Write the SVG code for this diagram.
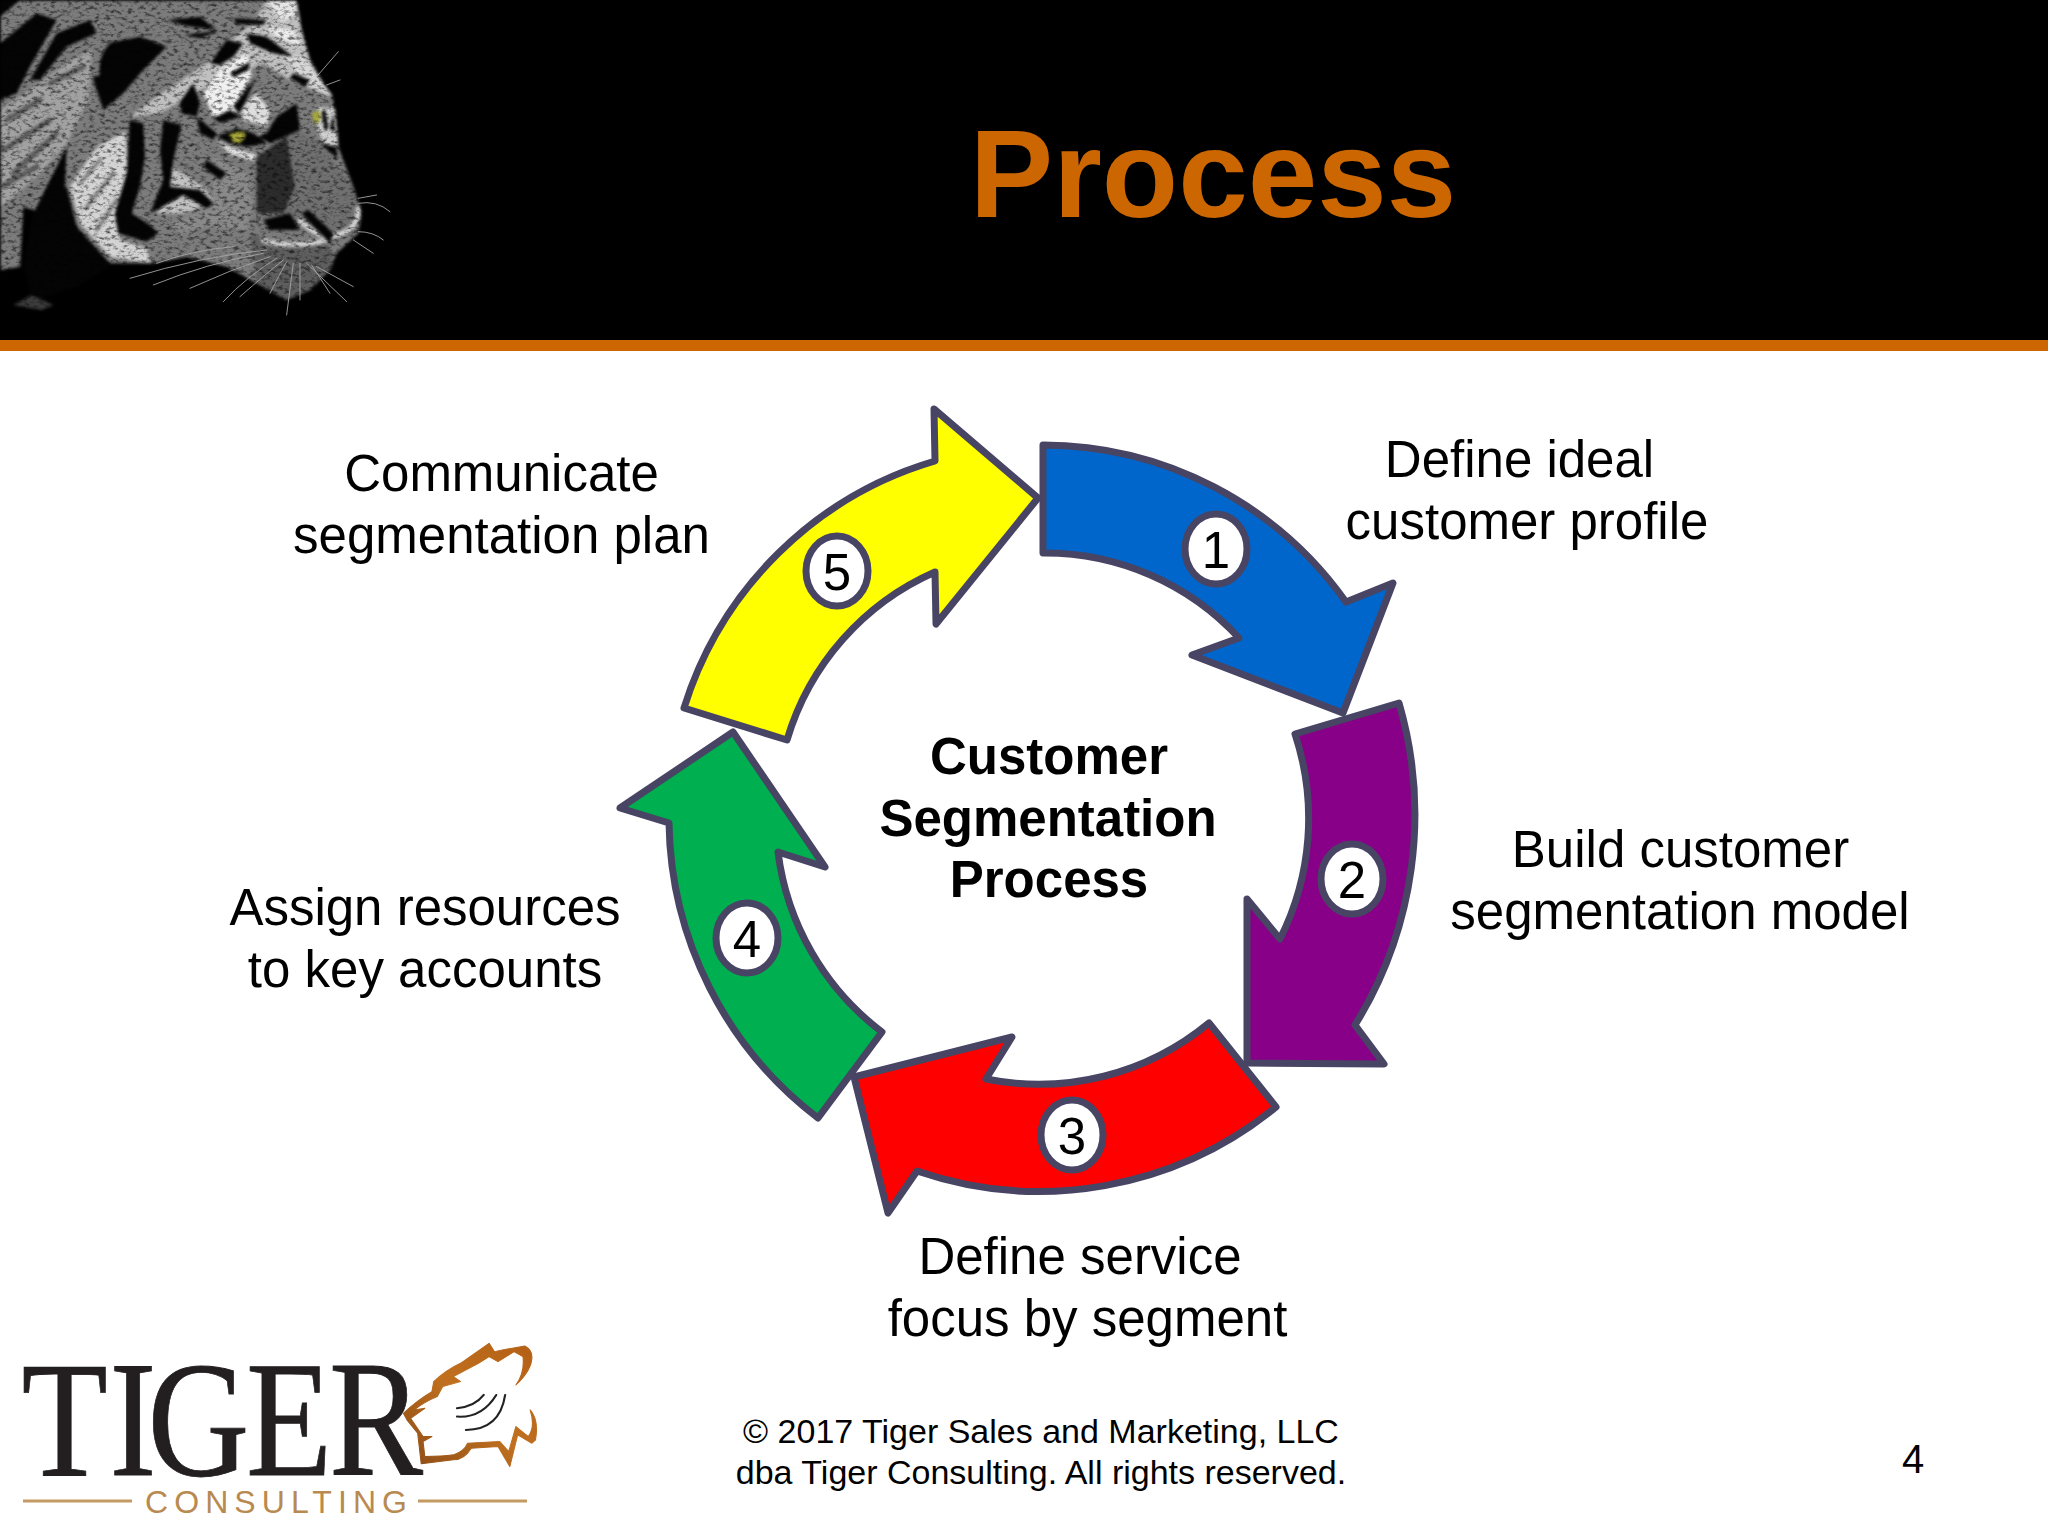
<svg xmlns="http://www.w3.org/2000/svg" width="2048" height="1536" viewBox="0 0 2048 1536">
<defs>
<style>
.t{font-family:"Liberation Sans",Arial,sans-serif;fill:#000;text-anchor:middle}
.lab{font-size:51px}
.b{font-size:51px;font-weight:bold}
.foot{font-size:34px}
.arrow{stroke:#484463;stroke-width:7;stroke-linejoin:round}
.badge{fill:#fff;stroke:#484463;stroke-width:7}
.k{fill:#040404}
.st{fill:none;stroke-linecap:round;stroke-linejoin:round}
.w{stroke:#a8a8a8;stroke-width:2.6;fill:none;stroke-linecap:round}
.lw{stroke:#222;stroke-width:6;fill:none;stroke-linecap:round}
</style>
<filter id="fur" x="0" y="0" width="100%" height="100%" color-interpolation-filters="sRGB">
<feGaussianBlur in="SourceGraphic" stdDeviation="5" result="b"/>
<feTurbulence type="fractalNoise" baseFrequency="0.06 0.1" numOctaves="4" seed="7" result="n"/>
<feColorMatrix in="n" type="matrix" values="1.7 0 0 0 0.1 1.7 0 0 0 0.1 1.7 0 0 0 0.1 0 0 0 0 1" result="g"/>
<feGaussianBlur in="g" stdDeviation="1.5" result="gs"/>
<feComposite in="b" in2="gs" operator="arithmetic" k1="0.95" k2="0.05" k3="0" k4="0" result="m"/>
<feComposite in="m" in2="b" operator="in"/>
</filter>
<linearGradient id="brown" x1="0" y1="1" x2="1" y2="0"><stop offset="0" stop-color="#8a4a16"/><stop offset=".5" stop-color="#c0701f"/><stop offset="1" stop-color="#b35f14"/></linearGradient>
</defs>
<rect width="2048" height="1536" fill="#fff"/>
<g id="header">
<rect width="2048" height="340" fill="#000"/>
<rect y="340" width="2048" height="11" fill="#cc6600"/>
<g id="tiger-photo" transform="scale(0.3333)">
<clipPath id="phclip"><rect width="1260" height="1020"/></clipPath>
<g clip-path="url(#phclip)">
<g filter="url(#fur)">
<rect width="1260" height="1020" fill="#000"/>
<path fill="#7c7c7c" d="M0 0H890L905 90L930 180L1000 300L1015 440L1060 560L1085 640L1075 700L1010 760L990 810L930 870L860 900L770 850L680 800L560 770L460 790L330 790L230 680L200 560L130 640L70 620L60 800L0 810Z"/>
<path fill="#a2a2a2" d="M0 330L90 270L230 170L275 150L265 300L200 430L120 520L40 590L0 620Z"/>
<path class="st" stroke="#5a5a5a" stroke-width="16" d="M20 360L120 300M10 450L150 360M40 520L170 400M5 560L110 500M150 250L250 200"/>
<path fill="#d4d4d4" d="M210 560L290 440L375 395L385 520L345 660L360 720L440 745L450 790L330 770L240 670Z"/>
<path class="st" stroke="#808080" stroke-width="12" d="M240 550L300 480M260 620L340 520M290 690L350 600M230 480L290 440"/>
<path fill="#c2c2c2" d="M500 490L610 560L640 600L560 640L470 640L500 590Z"/>
<path fill="#c0c0c0" d="M390 350L470 290L620 190L680 130L760 70L800 0H890L905 90L930 180L990 290L870 240L790 190L600 270L480 340Z"/>
<path fill="#8a8a8a" d="M640 470L740 520L760 600L740 690L630 680L540 700L510 670L640 620Z"/>
<path fill="#707070" d="M790 460L880 380L950 420L1060 560L1085 640L1075 700L1000 730L900 670L800 690L770 620Z"/>
<path fill="#2c2c2c" d="M770 470L860 410L885 560L850 640L770 640Z"/>
<path fill="#5e5e5e" d="M750 700L840 735L980 730L1000 760L990 810L930 870L860 900L770 850Z"/>
<path fill="#f0f0f0" d="M610 280L660 210L740 160L755 225L700 320L720 350L640 350Z"/>
<path fill="#dedede" d="M720 330L770 280L810 330L800 380L730 360Z"/>
<path fill="#ededed" d="M800 80L880 90L905 140L830 110Z"/>
<path fill="#e6e6e6" d="M800 0H890L880 50L845 65Z"/>
<path fill="#d8d8d8" d="M840 160L910 170L1000 290L930 260Z"/>
<path fill="#e0e0e0" d="M650 420L700 445L770 465L760 482L690 462Z"/>
<path fill="#e0e0e0" d="M770 395L815 425L790 430Z"/>
<path fill="#d0d0d0" d="M950 320L1005 325L1015 430L1000 470L955 400Z"/>
<path class="st" stroke="#d8d8d8" stroke-width="14" d="M790 722Q880 745 975 722M900 662Q970 725 1010 705Q1075 690 1075 625"/>
<path fill="#040404" d="M200 440L100 640L70 800L100 900L230 860L330 800L230 680L195 560Z"/>
<path class="k" d="M320 130L420 110L500 140L430 210L370 280L310 330L280 240L290 160Z"/>
<path class="st" stroke="#7a7a7a" stroke-width="18" d="M290 220Q285 150 340 110Q420 70 505 130"/>
<path class="k" d="M0 130L110 40L170 60L90 200L50 280L0 300Z"/>
<path class="k" d="M170 100L270 60L290 100L200 140L120 240L90 240Z"/>
<path class="k" d="M0 0H60L0 50Z"/>
<path class="k" d="M390 360L430 370L435 470L420 560L395 640L450 675L475 700L440 725L355 700L345 640L380 520Z"/>
<path class="k" d="M490 360L545 375L520 480L510 560L600 570L640 610L620 625L550 585L480 625L450 640L490 540L480 450Z"/>
<path class="k" d="M540 305L580 250L600 310L590 350L545 340Z"/>
<path class="k" d="M630 190L680 120L730 130L700 170L660 195Z"/>
<path class="k" d="M700 320L770 230L745 285L720 340Z"/>
<path class="k" d="M640 355L690 330L725 350L660 368Z"/>
<path class="k" d="M690 220L750 185L745 210L700 232Z"/>
<path class="k" d="M500 60L600 50L650 90L560 78ZM550 105L660 92L600 115Z"/>
<path class="k" d="M700 55L800 60L790 75L710 72Z"/>
<path class="k" d="M740 100L800 110L880 170L820 160L750 130Z"/>
<path class="k" d="M880 220L930 240L915 260L870 235Z"/>
<path class="k" d="M590 350L650 400L640 420L600 400Z"/>
<path class="k" d="M770 410L810 430L900 390L890 310L830 350L800 400Z"/>
<path class="k" d="M650 410L710 385L760 400L800 430L740 440L690 430Z"/>
<path class="k" d="M620 480L680 520L660 540L610 500Z"/>
<path class="k" d="M975 325L985 380L975 395L965 340ZM1000 340L1005 400L990 385Z"/>
<path class="k" d="M960 430L1010 440L1010 475Z"/>
<path class="k" d="M905 640L925 630L1000 700L990 730L950 690Z"/>
<path class="k" d="M790 660L870 640L900 690L810 690Z"/>
<path fill="#a8a83a" d="M687 405Q712 388 738 400Q733 428 710 430Q694 426 687 405Z"/>
<path fill="#a8a83a" d="M935 340L960 332L962 362L944 372Z"/>
<path fill="#3a3a3a" d="M40 915L95 885L160 915L125 930Z"/>
</g>
<g id="whiskers">
<path class="w" d="M800 750Q600 770 390 835M790 760Q620 790 460 855M810 770Q690 810 570 865M830 775Q740 830 670 905M850 780Q800 820 720 890M880 790L860 945M920 790L1040 905M950 800L1060 860M700 740Q580 750 470 790M860 785Q830 840 810 880M900 790L900 900M935 795L990 880"/>
<path class="w" d="M1075 610Q1130 600 1170 635M1075 595L1130 585M1075 695Q1120 695 1150 720M1060 720L1120 760M950 230L1015 155M980 255L1020 240"/>
</g>
</g>
</g>
<text class="t" x="1213" y="217" font-size="125" font-weight="bold" style="fill:#cc6600">Process</text>
</g>
<g id="step-1">
<path class="arrow" fill="#0066cc" d="M1043 445A372 372 0 0 1 1346 602L1393 583L1343 713L1192 655L1239 638A264 264 0 0 0 1043 553Z"/>
<ellipse class="badge" cx="1216" cy="549" rx="31" ry="35"/>
<text class="t lab" x="1216" y="568">1</text>
<text class="t lab" x="1519.500" y="477">Define ideal</text>
<text class="t lab" x="1527" y="539">customer profile</text>
</g>
<g id="step-2">
<path class="arrow" fill="#880088" d="M1399 703A400 400 0 0 1 1355 1025L1384 1064L1247 1063L1247 899L1280 939A268 268 0 0 0 1295 734Z"/>
<ellipse class="badge" cx="1352" cy="879" rx="31" ry="35"/>
<text class="t lab" x="1352" y="898">2</text>
<text class="t lab" x="1680.500" y="867">Build customer</text>
<text class="t lab" x="1680" y="929">segmentation model</text>
</g>
<g id="step-3">
<path class="arrow" fill="#ff0000" d="M1276 1107A375 375 0 0 1 917 1171L888 1213L854 1077L1012 1037L986 1079A267 267 0 0 0 1209 1023Z"/>
<ellipse class="badge" cx="1072" cy="1135" rx="31" ry="35"/>
<text class="t lab" x="1072" y="1154">3</text>
<text class="t lab" x="1080" y="1274">Define service</text>
<text class="t lab" x="1087.500" y="1336">focus by segment</text>
</g>
<g id="step-4">
<path class="arrow" fill="#00b050" d="M818 1118A378 378 0 0 1 669 823L620 808L733 732L825 867L778 852A267 267 0 0 0 882 1032Z"/>
<ellipse class="badge" cx="747" cy="938" rx="31" ry="35"/>
<text class="t lab" x="747" y="957">4</text>
<text class="t lab" x="425" y="925">Assign resources</text>
<text class="t lab" x="425" y="987">to key accounts</text>
</g>
<g id="step-5">
<path class="arrow" fill="#ffff00" d="M684 708A373 373 0 0 1 935 461L934 409L1038 498L936 624L935 572A266 266 0 0 0 787 740Z"/>
<ellipse class="badge" cx="837" cy="571" rx="31" ry="35"/>
<text class="t lab" x="837" y="590">5</text>
<text class="t lab" x="501.500" y="491">Communicate</text>
<text class="t lab" x="501.500" y="553">segmentation plan</text>
</g>
<g id="center">
<text class="t b" x="1049" y="774">Customer</text>
<text class="t b" x="1048" y="836">Segmentation</text>
<text class="t b" x="1049" y="897">Process</text>
</g>
<g id="logo">
<text x="25.400 128.800 173.500 289.400 387" y="1475" transform="scale(0.85 1)" font-family="Liberation Serif,serif" font-size="166" fill="#231f20" stroke="#231f20" stroke-width="0.8">TIGER</text>
<text x="145" y="1513" font-family="Liberation Sans,sans-serif" font-size="32" fill="#b98a4f" textLength="262" lengthAdjust="spacing">CONSULTING</text>
<path d="M23 1501H132M418 1501H527" stroke="#c49a63" stroke-width="3" fill="none"/>
<g transform="translate(0 1320) scale(0.357 0.333)">
<path fill="url(#brown)" stroke="url(#brown)" stroke-width="3" stroke-linejoin="round" d="M1130 280Q1170 240 1210 215L1215 185Q1250 150 1290 130L1350 85L1370 70L1385 95Q1430 85 1470 78Q1490 90 1490 110Q1490 150 1445 195Q1470 160 1465 110L1440 95L1395 125L1370 110L1340 130L1270 170L1290 185L1240 200L1225 230Q1190 245 1160 270L1190 265L1170 280L1150 295L1185 350L1210 350L1185 365L1190 410Q1240 410 1270 405Q1300 395 1310 370L1400 365L1425 395L1445 320L1480 350Q1500 320 1485 270Q1510 300 1500 360L1490 370L1450 345L1428 440L1395 380L1320 385Q1300 420 1270 420L1180 432L1170 340L1140 300Z"/>
<path class="lw" d="M1280 265Q1330 260 1355 225M1280 290Q1350 295 1390 225M1305 330Q1400 330 1415 225"/>
</g>
</g>
<g id="footer">
<text class="t foot" x="1041" y="1443">© 2017 Tiger Sales and Marketing, LLC</text>
<text class="t foot" x="1041" y="1484">dba Tiger Consulting. All rights reserved.</text>
<text class="t" x="1913" y="1473" font-size="40">4</text>
</g>
</svg>
